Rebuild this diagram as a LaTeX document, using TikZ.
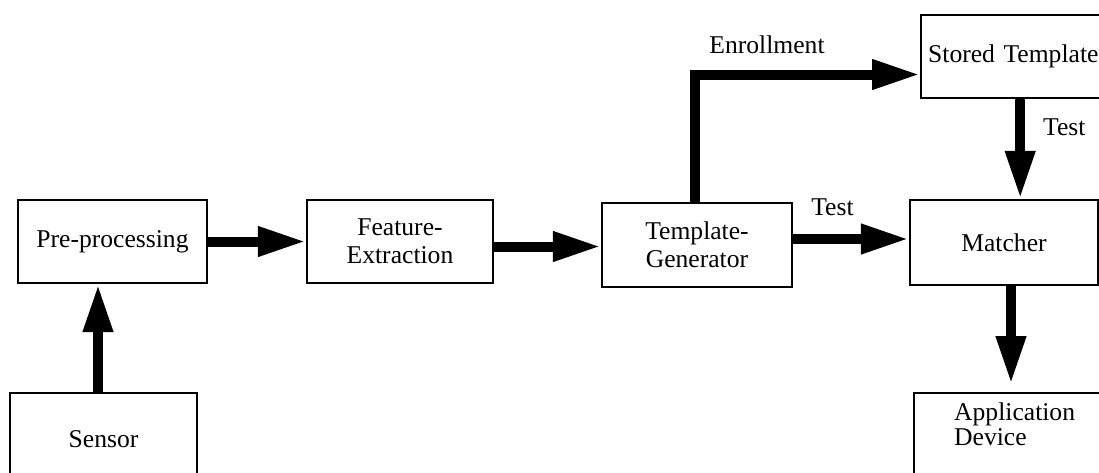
\documentclass[tikz,border=0pt]{standalone}
\usepackage{fontspec}
\setmainfont{Liberation Serif}
\usepackage{tikz}
\usetikzlibrary{arrows.meta,calc}

\begin{document}
\begin{tikzpicture}[x=0.5pt,y=-0.5pt,
	every node/.style={font=\fontsize{12.8}{14}\selectfont},
	box/.style={draw,rectangle,line width=1.2pt,align=center},
	lbl/.style={inner sep=1pt},
	flow/.style={line width=5pt,-{Triangle[length=24pt,width=14pt]}}]
\clip (0,0) rectangle (1099,472);

\node[box,minimum width=94.5pt,minimum height=41.5pt] (pre) at (112.5,241.5) {Pre-processing};
\node[box,minimum width=93.5pt,minimum height=46pt,anchor=north] (sens) at (103.5,392) {Sensor};
\node[box,minimum width=93pt,minimum height=41.5pt] (feat) at (400,241.5) {Feature-\\Extraction};
\node[box,minimum width=95pt,minimum height=42pt] (tgen) at (697,245) {Template-\\Generator};
\node[box,minimum width=94pt,minimum height=42.5pt] (match) at (1004,242.5) {Matcher};
\node[box,align=left,text width=104pt,minimum height=41.5pt,inner xsep=3.5pt,anchor=west] (stor) at (920,56.5) {Stored Template};
\node[box,align=left,anchor=north west,inner xsep=20pt,inner ysep=5pt,text depth=40pt,
	font=\fontsize{12.8}{12.5}\selectfont] (app) at (913,392) {Application\\Device};

\draw[flow] ([xshift=-2.75pt]sens.north) -- ([xshift=-2.75pt]sens.north |- pre.south);
\draw[flow] (pre) -- (feat);
\draw[flow] ([yshift=-2.5pt]feat.east) -- ([yshift=-2.5pt]feat.east -| tgen.west);
\draw[flow] ([yshift=3pt]tgen.east) -- ([yshift=3pt]tgen.east -| match.west)
	node[lbl,pos=0.34,above=8pt] (ltest1) {Test};
\draw[flow] ([xshift=-6pt]stor.south) -- ([xshift=-6pt]stor.south |- match.north)
	node[lbl,pos=0.28,right=8pt] (ltest2) {Test};
\draw[flow] ([xshift=-1pt]tgen.north) |- ([yshift=-9pt]stor.west)
	node[lbl,pos=0.66,above=7pt] (lenr) {Enrollment};
\draw[flow,shorten >=4pt] ([xshift=3.5pt]match.south) -- ([xshift=3.5pt]match.south |- app.north);

\end{tikzpicture}
\end{document}
